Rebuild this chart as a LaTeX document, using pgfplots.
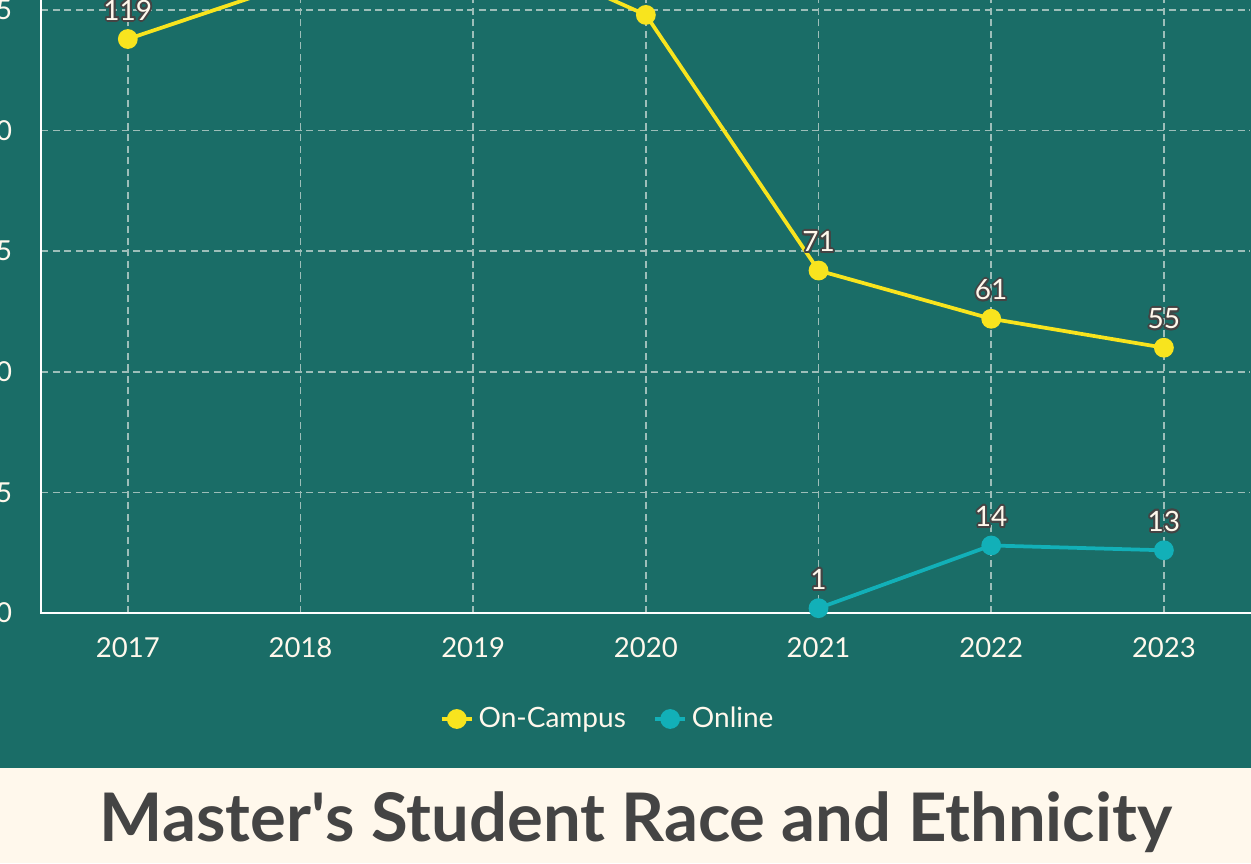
\documentclass[border=0pt]{standalone}
\usepackage{pgfplots}
\pgfplotsset{compat=1.18}
\usepackage{fontspec}
\setmainfont{Lato}
\usepackage{contour}
\contourlength{0.75pt}

\definecolor{bg}{HTML}{1A6D67}
\definecolor{cream}{HTML}{FFF8EC}
\definecolor{gridc}{HTML}{9DBEB9}
\definecolor{yel}{HTML}{F8E41E}
\definecolor{tealc}{HTML}{12B0B8}
\definecolor{lbl}{HTML}{444444}
\definecolor{titlec}{HTML}{444444}

\begin{document}
\begin{tikzpicture}
\useasboundingbox (0,0) rectangle (500.4pt,345.2pt);
\clip (0,0) rectangle (500.4pt,345.2pt);
\fill[cream] (0,0) rectangle (500.4pt,345.2pt);
\fill[bg] (0,38pt) rectangle (500.4pt,345.2pt);

\begin{axis}[
    at={(16.6pt,100pt)}, anchor=south west,
    scale only axis,
    width=483.5pt, height=289.4pt,
    xmin=2016.5, xmax=2023.5,
    ymin=0, ymax=150,
    xtick={2017,2018,2019,2020,2021,2022,2023},
    ytick={0,25,50,75,100,125,150},
    clip=false,
    axis line style={draw=none},
    major tick length=0pt,
    grid=major,
    grid style={gridc, line width=0.6pt, dash pattern=on 2.8pt off 1.8pt},
    /pgf/number format/assume math mode=true,
    /pgf/number format/1000 sep={},
    tick label style={font=\fontsize{11}{13}\selectfont, text=cream},
    xticklabel style={anchor=north, inner sep=0pt, yshift=-9.6pt},
    yticklabel style={anchor=east, inner sep=0pt, xshift=-11.6pt},
    every node near coord/.append style={font=\fontsize{11.2}{13}\selectfont, text=cream, anchor=south, inner sep=0pt, yshift=6pt},
    nodes near coords={\contour{lbl}{\pgfmathprintnumber{\pgfplotspointmeta}}},
    legend columns=2,
    legend style={at={(axis description cs:0.4697,-0.1465)}, anchor=center,
        draw=none, fill=none, text=cream, font=\fontsize{11.2}{13}\selectfont,
        /tikz/every even column/.append style={column sep=9pt}},
    legend image code/.code={
        \draw[mark repeat=2, mark phase=2, #1] plot coordinates {(0cm,0cm) (0.21cm,0cm) (0.42cm,0cm)};
    },
]
\draw[white, line width=0.8pt] (rel axis cs:0,1) -- (rel axis cs:0,0) -- (rel axis cs:1.02,0);

\addplot[yel, line width=1.5pt, mark=*, mark size=3.2pt, mark options={solid, fill=yel, draw=yel}]
coordinates {(2017,119) (2018,131) (2019,140) (2020,124) (2021,71) (2022,61) (2023,55)};
\addlegendentry{On-Campus}

\addplot[tealc, line width=1.5pt, mark=*, mark size=3.2pt, mark options={solid, fill=tealc, draw=tealc}]
coordinates {(2021,1) (2022,14) (2023,13)};
\addlegendentry{Online}
\end{axis}

\node[font=\bfseries\fontsize{26.8}{32}\selectfont, text=titlec] at (254.4pt,16.4pt)
    {Master\textquotesingle s Student Race and Ethnicity};
\end{tikzpicture}
\end{document}
